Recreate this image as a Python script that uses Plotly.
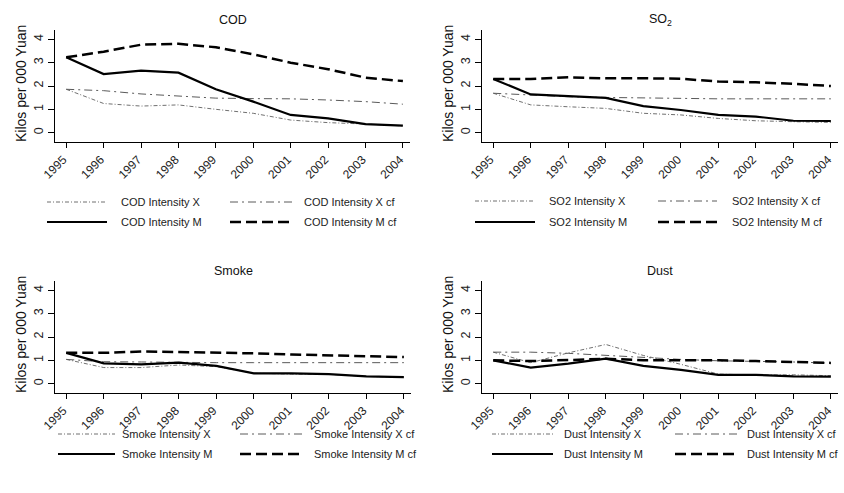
import plotly.graph_objects as go

years = [1995, 1996, 1997, 1998, 1999, 2000, 2001, 2002, 2003, 2004]
year_labels = [str(y) for y in years]
y_ticks = [0, 1, 2, 3, 4]

cod_x = [1.86, 1.25, 1.14, 1.19, 1.00, 0.83, 0.54, 0.43, 0.37, 0.29]
cod_x_cf = [1.86, 1.80, 1.66, 1.56, 1.48, 1.46, 1.45, 1.40, 1.33, 1.22]
cod_m = [3.23, 2.51, 2.66, 2.57, 1.86, 1.33, 0.76, 0.61, 0.37, 0.30]
cod_m_cf = [3.23, 3.47, 3.77, 3.81, 3.66, 3.36, 3.00, 2.72, 2.36, 2.21]

so2_x = [1.69, 1.19, 1.11, 1.04, 0.83, 0.76, 0.61, 0.51, 0.47, 0.44]
so2_x_cf = [1.69, 1.61, 1.54, 1.51, 1.48, 1.46, 1.45, 1.45, 1.45, 1.45]
so2_m = [2.30, 1.64, 1.57, 1.49, 1.14, 0.97, 0.76, 0.69, 0.51, 0.50]
so2_m_cf = [2.30, 2.30, 2.37, 2.33, 2.33, 2.31, 2.19, 2.16, 2.09, 2.00]

smoke_x = [1.04, 0.69, 0.69, 0.80, 0.73, 0.45, 0.41, 0.40, 0.31, 0.27]
smoke_x_cf = [1.04, 0.94, 0.93, 0.90, 0.90, 0.90, 0.90, 0.90, 0.90, 0.90]
smoke_m = [1.32, 0.87, 0.83, 0.90, 0.76, 0.44, 0.44, 0.41, 0.31, 0.28]
smoke_m_cf = [1.32, 1.32, 1.38, 1.36, 1.32, 1.30, 1.25, 1.21, 1.18, 1.14]

dust_x = [1.35, 0.90, 1.32, 1.68, 1.21, 0.83, 0.41, 0.37, 0.38, 0.34]
dust_x_cf = [1.35, 1.35, 1.30, 1.21, 1.11, 1.04, 0.98, 0.97, 0.93, 0.88]
dust_m = [1.00, 0.69, 0.86, 1.07, 0.76, 0.59, 0.38, 0.38, 0.31, 0.30]
dust_m_cf = [1.00, 0.97, 1.01, 1.07, 1.00, 1.01, 1.00, 0.97, 0.94, 0.89]

titles = ["COD", "SO<sub>2</sub>", "Smoke", "Dust"]
legend_names = [
    ["COD Intensity X", "COD Intensity X cf", "COD Intensity M", "COD Intensity M cf"],
    ["SO2 Intensity X", "SO2 Intensity X cf", "SO2 Intensity M", "SO2 Intensity M cf"],
    ["Smoke Intensity X", "Smoke Intensity X cf", "Smoke Intensity M", "Smoke Intensity M cf"],
    ["Dust Intensity X", "Dust Intensity X cf", "Dust Intensity M", "Dust Intensity M cf"],
]
series = [
    [cod_x, cod_x_cf, cod_m, cod_m_cf],
    [so2_x, so2_x_cf, so2_m, so2_m_cf],
    [smoke_x, smoke_x_cf, smoke_m, smoke_m_cf],
    [dust_x, dust_x_cf, dust_m, dust_m_cf],
]

W, H = 844, 493
FONT = "Liberation Sans, Arial, sans-serif"

styles = [
    dict(color="#707070", width=1, dash="4px,2px,1px,2px"),
    dict(color="#5a5a5a", width=1, dash="8px,4px,2px,4px"),
    dict(color="#000000", width=2.2, dash="solid"),
    dict(color="#000000", width=2.5, dash="11px,5px"),
]

# panel geometry in pixels
panels = [
    dict(xd=(55, 410), yd=(30, 142), rows=(202, 222), c1=(47, 107, 119), c2=(230, 293, 302)),
    dict(xd=(482, 838), yd=(30, 142), rows=(201, 222), c1=(475, 535, 547), c2=(658, 717, 730)),
    dict(xd=(55, 411), yd=(281, 393), rows=(434, 454), c1=(58, 115, 120), c2=(240, 302, 312)),
    dict(xd=(482, 838), yd=(281, 393), rows=(434, 454), c1=(492, 553, 562), c2=(675, 738, 745)),
]

def fx(p):
    return p / W

def fy(p):
    return 1 - p / H

fig = go.Figure()
layout = {}
shapes = []
annotations = []

for i, pnl in enumerate(panels):
    n = i + 1
    xa = "x" if n == 1 else f"x{n}"
    ya = "y" if n == 1 else f"y{n}"
    for k in range(4):
        fig.add_trace(go.Scatter(
            x=years, y=series[i][k], mode="lines", name=legend_names[i][k],
            line=styles[k], xaxis=xa, yaxis=ya, showlegend=False, hoverinfo="skip",
        ))
    xkey = "xaxis" if n == 1 else f"xaxis{n}"
    ykey = "yaxis" if n == 1 else f"yaxis{n}"
    layout[xkey] = dict(
        domain=[fx(pnl["xd"][0]), fx(pnl["xd"][1])], anchor=ya, automargin=False,
        range=[1994.7, 2004.19], tickmode="array", tickvals=years, ticktext=year_labels,
        tickangle=-45, ticks="outside", ticklen=5, tickcolor="black", ticklabelshift=-3,
        showline=True, linecolor="black", linewidth=1, showgrid=False, zeroline=False,
        tickfont=dict(family=FONT, size=12, color="#222"),
    )
    layout[ykey] = dict(
        domain=[fy(pnl["yd"][1]), fy(pnl["yd"][0])], anchor=xa, automargin=False,
        range=[-0.4, 4.4], tickmode="array", tickvals=y_ticks,
        tickangle=-90, ticks="outside", ticklen=6, tickcolor="black",
        showline=True, linecolor="black", linewidth=1, showgrid=False, zeroline=False,
        tickfont=dict(family=FONT, size=12.5, color="#222"),
    )
    # title
    annotations.append(dict(
        text=titles[i], x=fx((pnl["xd"][0] + pnl["xd"][1]) / 2), y=fy(20 if i < 2 else 271),
        xref="paper", yref="paper", showarrow=False, xanchor="center", yanchor="middle",
        font=dict(family=FONT, size=12.5, color="#111"),
    ))
    # y title
    annotations.append(dict(
        text="Kilos per 000 Yuan", x=fx(pnl["xd"][0] - 34), y=fy((pnl["yd"][0] + pnl["yd"][1]) / 2 - 2),
        xref="paper", yref="paper", showarrow=False, textangle=-90,
        xanchor="center", yanchor="middle",
        font=dict(family=FONT, size=14, color="#111"),
    ))
    # legend
    for k in range(4):
        row = pnl["rows"][k // 2]
        col = pnl["c1"] if k % 2 == 0 else pnl["c2"]
        shapes.append(dict(
            type="line", xref="paper", yref="paper",
            x0=fx(col[0]), x1=fx(col[1]), y0=fy(row), y1=fy(row),
            line=styles[k],
        ))
        annotations.append(dict(
            text=legend_names[i][k], x=fx(col[2]), y=fy(row),
            xref="paper", yref="paper", showarrow=False, xanchor="left", yanchor="middle",
            font=dict(family=FONT, size=11, color="#222"),
        ))

fig.update_layout(
    width=W, height=H,
    margin=dict(l=0, r=0, t=0, b=0, autoexpand=False),
    paper_bgcolor="white", plot_bgcolor="white",
    showlegend=False, hovermode=False,
    shapes=shapes, annotations=annotations,
    **layout,
)

fig.write_html(
    "out.html",
    config={"displayModeBar": False, "staticPlot": True},
    post_script="document.body.style.margin='0';document.body.style.padding='0';document.body.style.overflow='hidden';",
)
